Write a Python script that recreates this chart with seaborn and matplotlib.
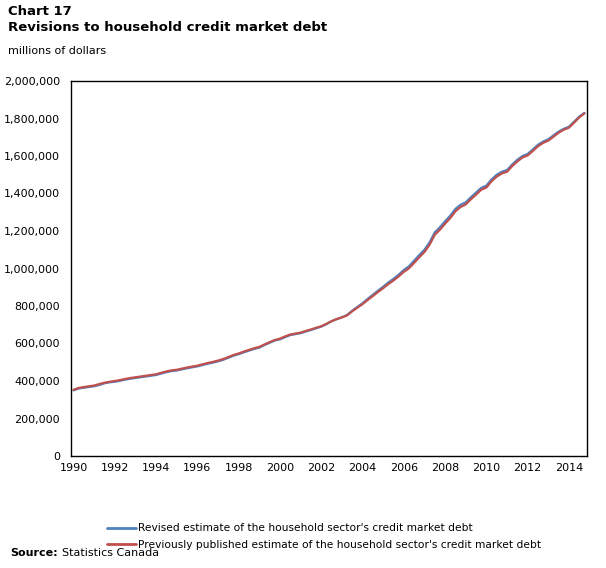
"""
Chart 17 — Revisions to household credit market debt
"""
import numpy as np
import pandas as pd
import matplotlib
matplotlib.use('Agg')
import matplotlib.pyplot as plt
import seaborn as sns
from matplotlib.lines import Line2D

# ===== 数据（季度，1990Q1–2014Q4，千 → 百万美元）=====
years = list(range(1990, 2015))
quarters = [f'{y}Q{q}' for y in years for q in range(1, 5)]

revised_k = [350, 360, 364, 368, 372, 379, 388, 393, 396, 401, 407, 412,
             416, 420, 424, 428, 432, 440, 447, 453, 456, 462, 468, 473,
             478, 485, 492, 498, 505, 513, 524, 535, 543, 553, 562, 571,
             578, 592, 604, 616, 622, 634, 645, 650, 655, 664, 672, 681,
             690, 703, 719, 730, 740, 752, 775, 795, 815, 838, 860, 882,
             903, 925, 945, 967, 992, 1012, 1042, 1072, 1100, 1140, 1193, 1220,
             1252, 1282, 1318, 1340, 1353, 1380, 1405, 1430, 1442, 1475, 1500, 1516,
             1525, 1555, 1580, 1600, 1611, 1635, 1660, 1677, 1689, 1710, 1730, 1745,
             1756, 1783, 1810, 1830]

previous_k = [353, 363, 368, 372, 376, 384, 391, 396, 400, 405, 411, 416,
              420, 424, 428, 432, 436, 444, 451, 457, 460, 466, 472, 477,
              482, 489, 496, 502, 509, 517, 528, 539, 547, 557, 566, 575,
              582, 595, 607, 619, 626, 638, 648, 653, 658, 667, 675, 684,
              692, 705, 719, 730, 739, 750, 772, 791, 810, 832, 853, 875,
              895, 917, 936, 958, 982, 1001, 1030, 1060, 1088, 1127, 1180, 1207,
              1239, 1269, 1305, 1328, 1342, 1369, 1394, 1420, 1432, 1465, 1490, 1507,
              1516, 1546, 1571, 1592, 1603, 1627, 1652, 1670, 1682, 1703, 1724, 1740,
              1751, 1778, 1806, 1827]

label_rev = "Revised estimate of the household sector's credit market debt"
label_prev = "Previously published estimate of the household sector's credit market debt"

C_BLUE = '#4F81BD'
C_RED = '#C0504D'

# ===== 风格 =====
sns.set_theme(style='white')
plt.rcParams['font.family'] = ['DejaVu Sans']
plt.rcParams['axes.unicode_minus'] = False
plt.rcParams['text.color'] = 'black'

idx = np.arange(len(quarters))
df = pd.DataFrame({
    'idx': np.concatenate([idx, idx]),
    'value': np.array(revised_k + previous_k) * 1000,
    'series': [label_rev] * len(idx) + [label_prev] * len(idx),
})

fig = plt.figure(figsize=(6.06, 5.68), dpi=100)
ax = fig.add_axes([71 / 606, 1 - 456 / 568, 516 / 606, 375 / 568])

sns.lineplot(data=df, x='idx', y='value', hue='series',
             palette={label_rev: C_BLUE, label_prev: C_RED},
             linewidth=1.6, legend=False, ax=ax)

ax.set_xlim(-0.5, len(quarters) - 0.5)
ax.set_ylim(0, 2_000_000)
ax.set_xticks(idx[::8])
ax.set_xticklabels([str(y) for y in years[::2]])
ax.set_yticks(np.arange(0, 2_000_001, 200_000))
ax.yaxis.set_major_formatter(matplotlib.ticker.FuncFormatter(lambda v, p: f'{int(v):,}'))
ax.tick_params(axis='both', length=0, labelsize=8, colors='black')
ax.tick_params(axis='y', pad=8)
ax.tick_params(axis='x', pad=5)
ax.set_xlabel('')
ax.set_ylabel('')
for s in ax.spines.values():
    s.set_color('black')
    s.set_linewidth(1.0)
ax.grid(False)

# 标题
fig.text(8 / 606, 1 - 5 / 568, 'Chart 17', fontsize=9.5, fontweight='bold',
         va='top', ha='left', color='black')
fig.text(8 / 606, 1 - 21 / 568, 'Revisions to household credit market debt',
         fontsize=9.5, fontweight='bold', va='top', ha='left', color='black')
fig.text(8 / 606, 1 - 46 / 568, 'millions of dollars', fontsize=8,
         va='top', ha='left', color='black')

# 图例
handles = [Line2D([], [], color=C_BLUE, lw=2),
           Line2D([], [], color=C_RED, lw=2)]
fig.legend(handles, [label_rev, label_prev], loc='upper left',
           bbox_to_anchor=(100 / 606, 1 - 516 / 568), frameon=False,
           fontsize=7.7, handlelength=2.7, handletextpad=0.15,
           labelspacing=0.62, borderpad=0.2, labelcolor='black')

# 来源
fig.text(10 / 606, 1 - 553 / 568, 'Source:', fontsize=8, fontweight='bold',
         va='center', ha='left', color='black')
fig.text(62 / 606, 1 - 553 / 568, 'Statistics Canada', fontsize=8,
         va='center', ha='left', color='black')

plt.savefig('out.png', dpi=100)
